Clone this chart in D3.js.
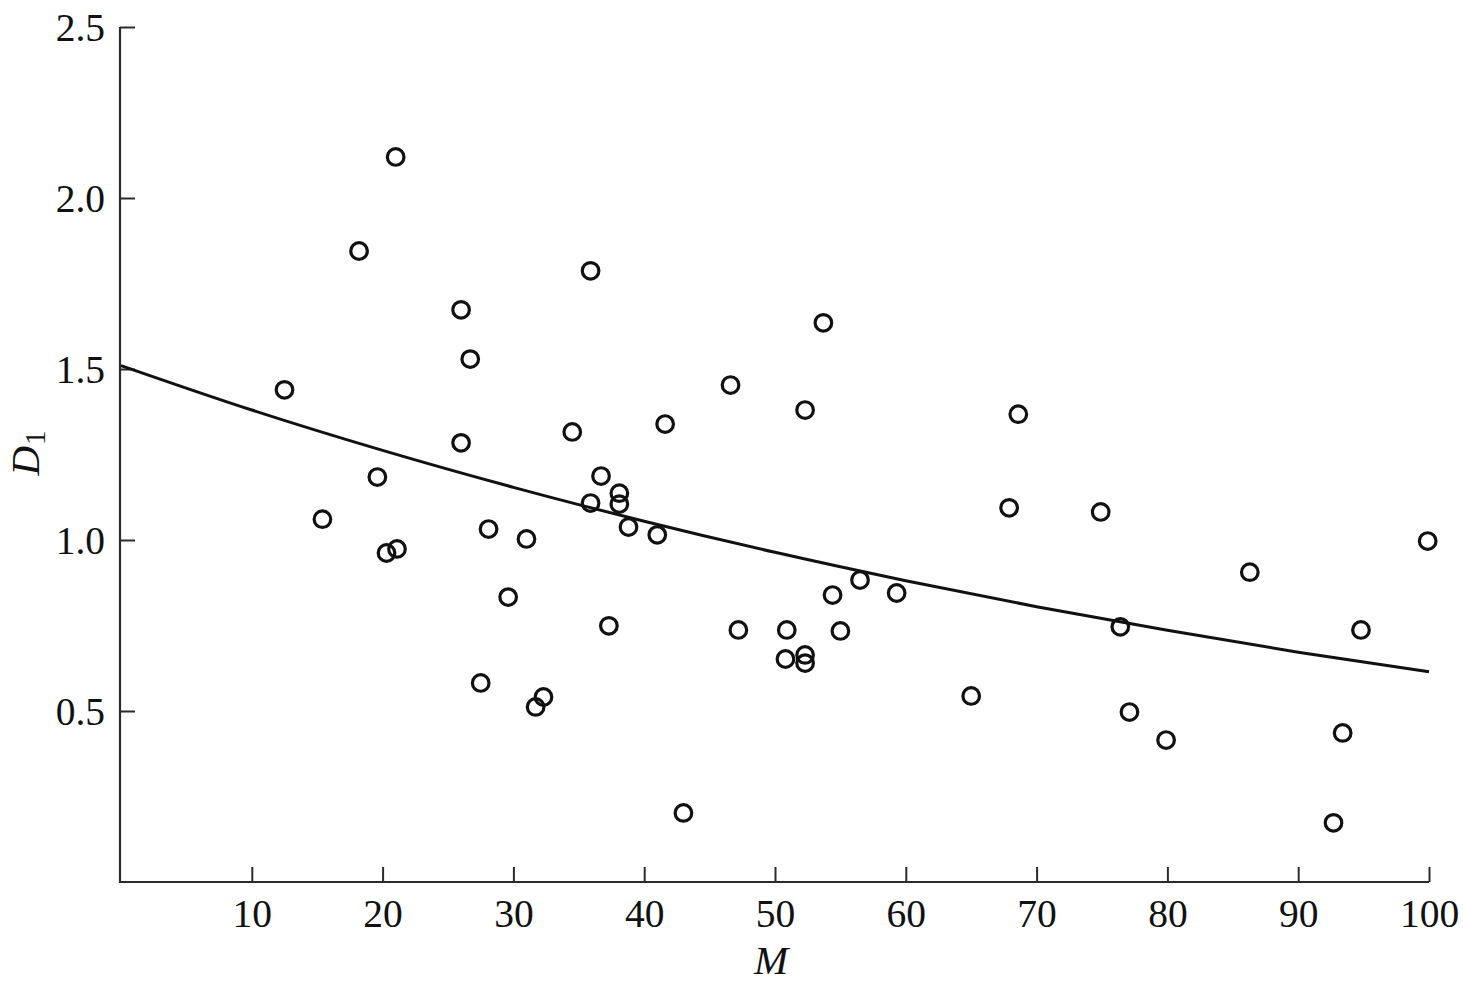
<!DOCTYPE html>
<html>
<head>
<meta charset="utf-8">
<script src="https://cdn.jsdelivr.net/npm/d3@7/dist/d3.min.js"></script>
<style>
  html, body { margin: 0; padding: 0; background: #fff; }
  svg { display: block; }
  text { font-family: "Liberation Serif", "DejaVu Serif", serif; fill: #111; }
</style>
</head>
<body>
<svg id="chart" width="1463" height="990"></svg>
<script>
// ---- data ----
const mValues = [12.5, 15.4, 18.2, 19.6, 20.3, 21.1, 21.0, 26.0, 26.0, 26.7,
  27.5, 28.1, 29.6, 31.0, 31.7, 32.3, 34.5, 35.9, 35.9, 36.7,
  37.3, 38.1, 38.1, 38.8, 41.0, 41.6, 43.0, 46.6, 47.2, 50.9,
  50.8, 52.3, 52.3, 52.3, 53.7, 54.4, 55.0, 56.5, 59.3, 65.0,
  67.9, 68.6, 74.9, 76.4, 77.1, 79.9, 86.3, 92.7, 93.4, 94.8, 99.9];
const d1Values = [1.439, 1.061, 1.845, 1.184, 0.962, 0.974, 2.120, 1.673, 1.284, 1.529,
  0.582, 1.032, 0.833, 1.003, 0.512, 0.541, 1.316, 1.787, 1.108, 1.187,
  0.749, 1.137, 1.105, 1.038, 1.015, 1.339, 0.202, 1.453, 0.737, 0.737,
  0.652, 1.380, 0.664, 0.640, 1.635, 0.839, 0.734, 0.883, 0.845, 0.544,
  1.094, 1.368, 1.082, 0.746, 0.497, 0.415, 0.906, 0.173, 0.436, 0.737, 0.997];
const curveM = [0, 10, 20, 30, 40, 50, 60, 70, 80, 90, 100];
const curveD1 = [1.51, 1.38, 1.262, 1.154, 1.055, 0.964, 0.881, 0.805, 0.736, 0.672, 0.615];
const xTicks = [10, 20, 30, 40, 50, 60, 70, 80, 90, 100];
const yTicks = [0.5, 1.0, 1.5, 2.0, 2.5];
const xLabel = "M";

// ---- drawing ----
const svg = d3.select("#chart");
const x = d3.scaleLinear().domain([0, 100]).range([121, 1429]);
const y = d3.scaleLinear().domain([0, 2.5]).range([882, 27]);
const axisColor = "#2b2b2b";
const fs = 39.5;

// x axis (ticks pointing inward/up)
const xAxis = d3.axisBottom(x).tickValues(xTicks).tickSizeInner(-15).tickSizeOuter(0)
  .tickPadding(0).tickFormat(d3.format("d"));
const gx = svg.append("g").attr("transform", "translate(0,882)").call(xAxis);
gx.select(".domain").attr("d", `M120,0H${x(100)}`).attr("stroke", axisColor).attr("stroke-width", 2.2);
gx.selectAll(".tick line").attr("stroke", axisColor).attr("stroke-width", 2);
gx.selectAll(".tick text").attr("y", 45).attr("dy", null).attr("font-size", fs)
  .style("font-family", "Liberation Serif").attr("fill", "#111");

// y axis (ticks pointing inward/right)
const yAxis = d3.axisLeft(y).tickValues(yTicks).tickSizeInner(-15).tickSizeOuter(0)
  .tickPadding(0).tickFormat(d3.format(".1f"));
const gy = svg.append("g").attr("transform", "translate(120,0)").call(yAxis);
gy.select(".domain").attr("d", `M0,${y(2.5)}V883`).attr("stroke", axisColor).attr("stroke-width", 2.2);
gy.selectAll(".tick line").attr("stroke", axisColor).attr("stroke-width", 2);
gy.selectAll(".tick text").attr("x", -15).attr("dy", "0.33em").attr("font-size", fs)
  .style("font-family", "Liberation Serif").attr("fill", "#111");

// axis titles
svg.append("text").attr("x", 771).attr("y", 974).attr("text-anchor", "middle")
  .attr("font-size", 41).attr("font-style", "italic").text(xLabel);
const yt = svg.append("text").attr("transform", "translate(39,453) rotate(-90)")
  .attr("text-anchor", "middle").attr("font-size", 41);
yt.append("tspan").attr("font-style", "italic").text("D");
yt.append("tspan").attr("font-size", 29).attr("dx", 1).attr("dy", 6).text("1");

// fitted curve
const curveData = curveM.map((m, i) => ({ m, d: curveD1[i] }));
svg.append("path").datum(curveData)
  .attr("fill", "none").attr("stroke", "#111").attr("stroke-width", 3)
  .attr("d", d3.line().x(d => x(d.m)).y(d => y(d.d)).curve(d3.curveMonotoneX));

// points
const pts = mValues.map((m, i) => ({ m, d: d1Values[i] }));
svg.append("g").selectAll("circle").data(pts).join("circle")
  .attr("cx", d => x(d.m)).attr("cy", d => y(d.d)).attr("r", 8.3)
  .attr("fill", "none").attr("stroke", "#111").attr("stroke-width", 3.2);
</script>
</body>
</html>
